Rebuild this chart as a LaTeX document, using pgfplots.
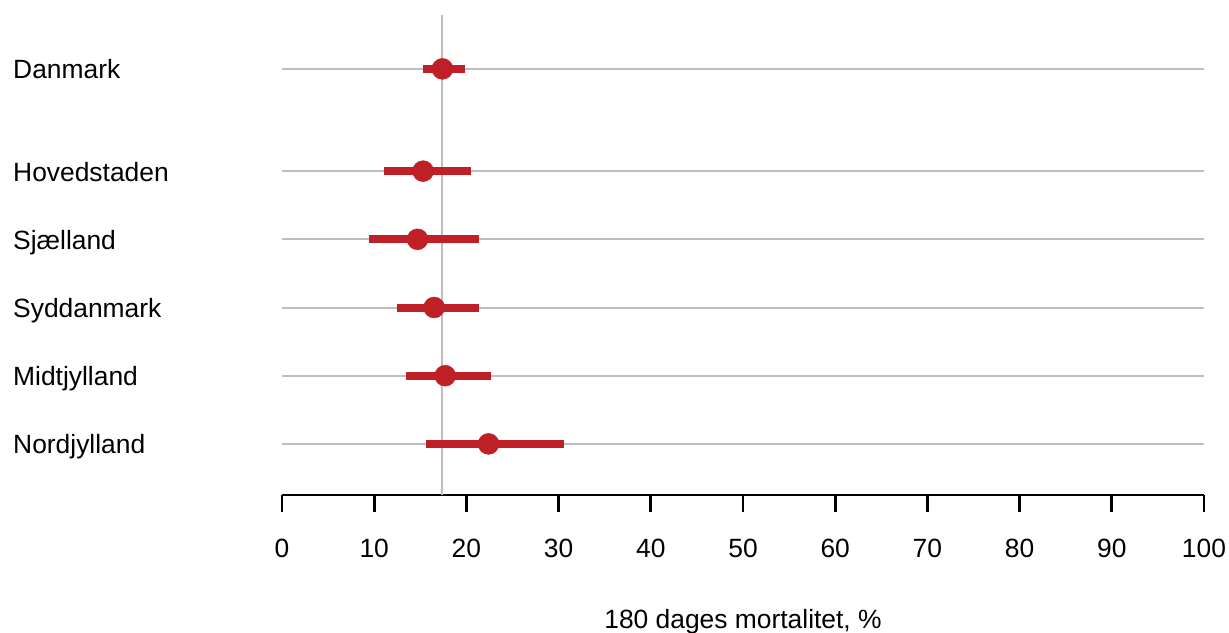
\documentclass[border=0pt]{standalone}
\usepackage{fontspec}
\setmainfont{Liberation Sans}
\usepackage{pgfplots}
\usepackage{pgfplotstable}
\pgfplotsset{compat=1.18}
\definecolor{estred}{RGB}{190,32,38}
\definecolor{gridgray}{RGB}{190,190,190}

% region, row position, estimate, lower and upper limit (180-day mortality, %)
\pgfplotstableread{
pos  est   lo    hi
5.5  17.4  15.3  19.8
4    15.3  11.1  20.5
3    14.7  9.4   21.4
2    16.5  12.5  21.4
1    17.7  13.5  22.7
0    22.4  15.6  30.6
}\mortality

\begin{document}
\fontsize{26.4bp}{31bp}\selectfont
\begin{tikzpicture}[x=1bp,y=1bp]
\useasboundingbox (0,0) rectangle (1229,-633);
\begin{axis}[
  at={(282bp,-495bp)}, anchor=south west,
  scale only axis, width=922bp, height=480bp,
  xmin=0, xmax=100, ymin=-0.75, ymax=6.29,
  axis x line=bottom, axis y line=left,
  x axis line style={-, line width=2.8bp, black},
  y axis line style={draw=none},
  xtick={0,10,...,100},
  ytick={0,1,2,3,4,5.5},
  yticklabels={Nordjylland,Midtjylland,Syddanmark,Sjælland,Hovedstaden,Danmark},
  tick align=outside,
  major tick length=17bp,
  xtick style={black, line width=2.7bp},
  ytick style={draw=none},
  ymajorgrids,
  major grid style={gridgray, line width=2bp},
  /pgf/number format/assume math mode=true,
  xticklabel style={anchor=north, inner sep=0pt, yshift=-27bp},
  yticklabel style={anchor=base west, inner sep=0pt, xshift=-252bp, yshift=-10bp},
  xlabel={180 dages mortalitet, \%},
  xlabel style={at={(axis description cs:0.5,0)}, anchor=base, yshift=-133bp},
  clip=false,
]
% national estimate as reference line
\addplot[gridgray, line width=2bp] coordinates {(17.4,-0.75) (17.4,6.29)};
\addplot[only marks, mark=*, mark size=10.5bp, estred,
  mark options={draw=none, fill=estred},
  error bars/.cd, x dir=both, x explicit, error mark=none,
  error bar style={line width=8bp, estred}]
  table[x=est, y=pos,
    x error plus expr=\thisrow{hi}-\thisrow{est},
    x error minus expr=\thisrow{est}-\thisrow{lo}] {\mortality};
\end{axis}
\end{tikzpicture}
\end{document}
